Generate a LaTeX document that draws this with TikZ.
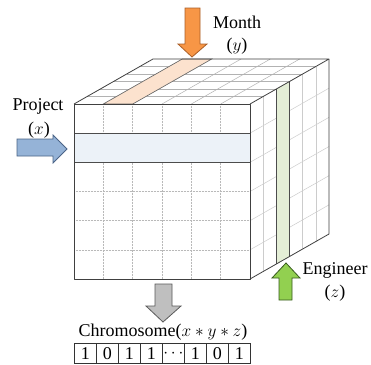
\documentclass[tikz,border=0pt]{standalone}
\usepackage{fontspec}
\setmainfont{Liberation Serif}
\definecolor{stripeblue}{RGB}{236,242,248}
\definecolor{stripeorange}{RGB}{252,226,206}
\definecolor{stripegreen}{RGB}{228,238,214}
\begin{document}
\begin{tikzpicture}[x=1pt,y=-1pt,
  lbl/.style={inner sep=0pt,font=\fontsize{18}{21}\selectfont},
  gridtop/.style={draw=gray!60,line width=0.5pt},
  gridright/.style={draw=gray!40,line width=0.5pt},
  gridfront/.style={draw=gray!55,line width=0.5pt,densely dotted},
  stripeedge/.style={draw=black!70,line width=1pt},
  outline/.style={draw=black!75,line width=0.8pt,line join=round},
  blockarrow/.style={line width=0.8pt,line join=miter},
  cell/.style={draw=black!80,line width=0.7pt,minimum width=22pt,minimum height=20pt,inner sep=0pt,anchor=north west,font=\fontsize{18}{21}\selectfont}]
\useasboundingbox (0,0) rectangle (371,364);
\fill[white] (0,0) rectangle (371,364);
% cube corners
\coordinate (FTL) at (74,104);
\coordinate (FTR) at (250,104);
\coordinate (FBR) at (250,279);
\coordinate (FBL) at (74,279);
\coordinate (BTL) at (153,59);
\coordinate (BTR) at (329,59);
\coordinate (BBR) at (329,234);
% grids
\foreach \u in {1,...,5}{
  \draw[gridtop] ({74+\u*29.333},104) -- ({153+\u*29.333},59);
  \draw[gridtop] ({74+\u*13.167},{104-\u*7.5}) -- ({250+\u*13.167},{104-\u*7.5});
  \draw[gridright] ({250+\u*13.167},{104-\u*7.5}) -- ({250+\u*13.167},{279-\u*7.5});
  \draw[gridright] (250,{104+\u*29.167}) -- (329,{59+\u*29.167});
  \draw[gridfront] ({74+\u*29.333},104) -- ({74+\u*29.333},279);
  \draw[gridfront] (74,{104+\u*29.167}) -- (250,{104+\u*29.167});
}
% stripes
\filldraw[fill=stripeorange,draw=black!60,line width=0.6pt] (103.3,104) -- (182.3,59) -- (211.7,59) -- (132.7,104) -- cycle;
\fill[stripeblue] (74,133.2) rectangle (250,162.3);
\draw[stripeedge] (74,133.2) -- (250,133.2);
\draw[stripeedge] (74,162.3) -- (250,162.3);
\fill[stripegreen] (276.3,89) -- (289.5,81.5) -- (289.5,256.5) -- (276.3,264) -- cycle;
\draw[stripeedge] (276.3,89) -- (276.3,264);
\draw[stripeedge] (289.5,81.5) -- (289.5,256.5);
% cube outline
\draw[outline] (FTL) rectangle (FBR);
\draw[outline] (FTL) -- (BTL) -- (BTR) -- (FTR);
\draw[outline] (BTR) -- (BBR) -- (FBR);
% block arrows
\filldraw[blockarrow,fill={rgb,255:red,247;green,150;blue,70},draw={rgb,255:red,170;green,95;blue,40}]
  (185,8) -- (200,8) -- (200,44) -- (207,44) -- (192,57) -- (178,44) -- (185,44) -- cycle;
\filldraw[blockarrow,fill={rgb,255:red,149;green,179;blue,215},draw={rgb,255:red,75;green,100;blue,135}]
  (17,139) -- (53,139) -- (53,135) -- (67,149) -- (53,163) -- (53,156) -- (17,156) -- cycle;
\filldraw[blockarrow,fill={rgb,255:red,146;green,208;blue,80},draw={rgb,255:red,55;green,90;blue,30}]
  (279,300) -- (279,278) -- (272,278) -- (286,263) -- (300,278) -- (292,278) -- (292,300) -- cycle;
\filldraw[blockarrow,fill={rgb,255:red,191;green,191;blue,191},draw={rgb,255:red,90;green,90;blue,90}]
  (155,284) -- (172,284) -- (172,306) -- (181,306) -- (163,322) -- (146,306) -- (155,306) -- cycle;
% labels
\node[lbl] (month) at (237,22) {Month};
\node[lbl] (monthv) at (237,46) {($y$)};
\node[lbl] (proj) at (38,106) {Project};
\node[lbl] (projv) at (39,130) {($x$)};
\node[lbl] (eng) at (335,270) {Engineer};
\node[lbl] (engv) at (335,293) {($z$)};
\node[lbl] (chrom) at (163,332) {Chromosome($x\ast y\ast z$)};
% chromosome cells
\foreach \v [count=\i from 0] in {1,0,1,1,$\cdots$,1,0,1}{
  \node[cell] (c\i) at ({74+\i*22},343) {\v};
}
\end{tikzpicture}
\end{document}
